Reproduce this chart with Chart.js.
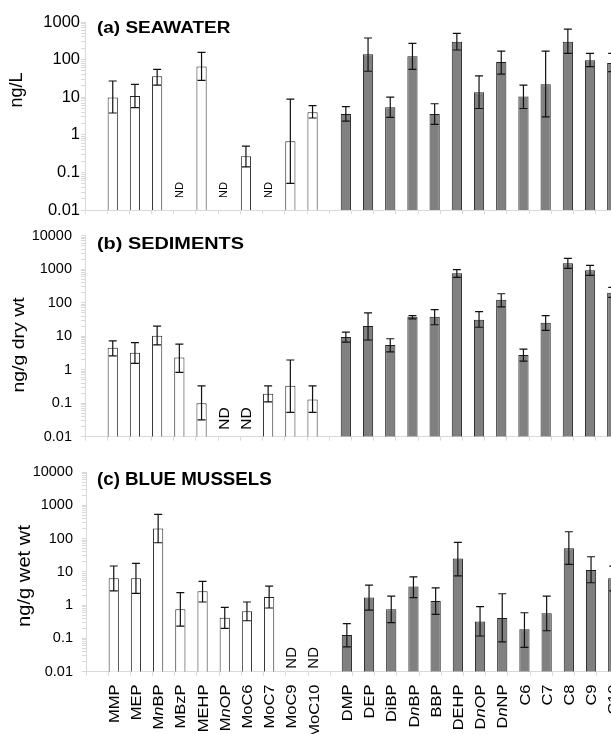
<!DOCTYPE html>
<html>
<head>
<meta charset="utf-8">
<script src="https://cdn.jsdelivr.net/npm/chart.js@4.4.1/dist/chart.umd.min.js"></script>
<style>
  body { margin: 0; width: 611px; height: 734px; overflow: hidden; background: #fff; position: relative; }
  canvas { position: absolute; left: 0; }
</style>
</head>
<body>
<canvas id="chartA" width="640" height="230"></canvas>
<canvas id="chartB" width="640" height="240"></canvas>
<canvas id="chartC" width="640" height="300"></canvas>
<script>
// compostos
const monoLabels = ['MMP', 'MEP', 'MnBP', 'MBzP', 'MEHP', 'MnOP', 'MoC6', 'MoC7', 'MoC9', 'MoC10'];
const diLabels = ['DMP', 'DEP', 'DiBP', 'DnBP', 'BBP', 'DEHP', 'DnOP', 'DnNP', 'C6', 'C7', 'C8', 'C9', 'C10'];
const yTickLabels = ['0.01', '0.1', '1', '10', '100', '1000', '10000'];

// (a) agua do mar, ng/L  (null = ND)
const seaMono   = [9.8, 10.7, 36, null, 66, null, 0.27, null, 0.67, 4.0];
const seaMonoLo = [3.8, 5.3, 21, null, 28, null, 0.14, null, 0.051, 2.8];
const seaMonoHi = [27, 22, 55, null, 156, null, 0.5, null, 8.9, 6.0];
const seaDi     = [3.6, 138, 5.4, 122, 3.6, 299, 13.5, 86, 10.5, 22, 300, 96, 81];
const seaDiLo   = [2.3, 49, 2.9, 55, 1.9, 180, 5.0, 41, 5.0, 3.0, 147, 65, 48];
const seaDiHi   = [5.6, 375, 10, 270, 6.7, 500, 37, 169, 21, 169, 650, 147, 147];

// (b) sedimentos, ng/g dry wt
const sedMono   = [4.5, 3.2, 10.4, 2.3, 0.10, null, null, 0.19, 0.33, 0.13];
const sedMonoLo = [2.6, 1.55, 5.5, 0.83, 0.032, null, null, 0.11, 0.053, 0.053];
const sedMonoHi = [7.3, 6.4, 20, 5.8, 0.33, null, null, 0.33, 1.95, 0.33];
const sedDi     = [9.5, 20, 5.5, 38, 38, 755, 31, 123, 2.75, 25, 1500, 927, 199];
const sedDiLo   = [6.7, 7.7, 3.4, 33, 22, 573, 18.5, 75, 1.8, 15, 1064, 658, 145];
const sedDiHi   = [13.3, 50, 8.4, 41, 62, 966, 54, 185, 4.1, 41, 2115, 1307, 288];

// (c) mexilhoes, ng/g wet wt
const musMono   = [6.4, 6.4, 202, 0.75, 2.6, 0.42, 0.65, 1.75, null, null];
const musMonoLo = [2.7, 2.26, 75, 0.235, 1.24, 0.2, 0.34, 0.82, null, null];
const musMonoHi = [15, 18, 533, 2.36, 5.2, 0.86, 1.24, 3.75, null, null];
const musDi     = [0.126, 1.71, 0.75, 3.6, 1.33, 25.4, 0.32, 0.41, 0.19, 0.57, 51, 11.3, 6.4];
const musDiLo   = [0.056, 0.71, 0.30, 1.67, 0.53, 7.6, 0.118, 0.079, 0.054, 0.17, 16.8, 4.7, 2.7];
const musDiHi   = [0.28, 4.0, 1.87, 7.1, 3.3, 77, 0.9, 2.2, 0.59, 1.87, 160, 28.4, 14.9];

const FONT = "'Liberation Sans', Arial, sans-serif";
const AXIS_GRAY = '#d9d9d9';

// uma categoria vazia no inicio, depois monoesteres e diesteres
const categories = [''].concat(monoLabels, diLabels);
const padMono = arr => [null].concat(arr, diLabels.map(() => null));
const padDi = arr => [null].concat(monoLabels.map(() => null), arr);

function makeSet(vals, lo, hi, pad, fill, border) {
    const data = pad(vals);
    const inGroup = pad(vals.map(() => true));
    return {
        data: data,
        errLo: pad(lo),
        errHi: pad(hi),
        nd: data.map((v, i) => inGroup[i] === true && v === null),
        backgroundColor: fill,
        borderColor: border,
        borderWidth: 1,
        categoryPercentage: 1.0,
        barPercentage: 0.92
    };
}

function drawText(ctx, text, x, y, font, o) {
    ctx.save();
    ctx.translate(x, y);
    if (o.rotate) ctx.rotate(-Math.PI / 2);
    ctx.scale(o.stretch || 1, 1);
    ctx.font = font;
    ctx.fillStyle = '#000';
    ctx.textAlign = o.align || 'left';
    ctx.textBaseline = o.baseline || 'alphabetic';
    ctx.fillText(text, 0, 0);
    ctx.restore();
}

// rotulo do eixo x com o "n" em italico (MnBP, DnOP...)
function drawCatLabel(ctx, label, x, y, size, stretch) {
    const parts = label.split(/(n)/).filter(s => s);
    const fontOf = p => (p === 'n' ? 'italic ' : '') + size + 'px ' + FONT;
    ctx.save();
    ctx.translate(x, y);
    ctx.rotate(-Math.PI / 2);
    ctx.scale(stretch, 1);
    ctx.fillStyle = '#000';
    ctx.textAlign = 'left';
    ctx.textBaseline = 'middle';
    let total = 0;
    parts.forEach(p => { ctx.font = fontOf(p); total += ctx.measureText(p).width; });
    let cx = -total;
    parts.forEach(p => {
        ctx.font = fontOf(p);
        ctx.fillText(p, cx, 0);
        cx += ctx.measureText(p).width;
    });
    ctx.restore();
}

const decorPlugin = {
    id: 'decor',
    afterDatasetsDraw(chart, args, o) {
        const ctx = chart.ctx;
        const yScale = chart.scales.y;
        const area = chart.chartArea;

        // barras de erro
        ctx.save();
        ctx.strokeStyle = '#111';
        ctx.lineWidth = 1.2;
        chart.data.datasets.forEach((ds, d) => {
            const meta = chart.getDatasetMeta(d);
            ds.data.forEach((v, j) => {
                if (v === null || ds.errLo[j] == null) return;
                const x = meta.data[j].x;
                const yTop = yScale.getPixelForValue(ds.errHi[j]);
                const yBot = yScale.getPixelForValue(ds.errLo[j]);
                ctx.beginPath();
                ctx.moveTo(x, yTop); ctx.lineTo(x, yBot);
                ctx.moveTo(x - 4, yTop); ctx.lineTo(x + 4, yTop);
                ctx.moveTo(x - 4, yBot); ctx.lineTo(x + 4, yBot);
                ctx.stroke();
            });
        });
        ctx.restore();

        // ND
        chart.data.datasets.forEach((ds, d) => {
            const meta = chart.getDatasetMeta(d);
            ds.nd.forEach((isNd, j) => {
                if (!isNd) return;
                drawText(ctx, 'ND', meta.data[j].x + 0.5, area.bottom - o.ndGap,
                    o.ndSize + 'px ' + FONT, { rotate: true, baseline: 'middle' });
            });
        });

        // titulo do painel e do eixo y
        drawText(ctx, o.title, 97, o.titleBase, 'bold ' + o.titleSize + 'px ' + FONT,
            { stretch: o.titleStretch });
        drawText(ctx, o.yTitle, o.yTitleX, o.yTitleY, o.yTitleSize + 'px ' + FONT,
            { rotate: true, align: 'center', baseline: 'middle', stretch: o.yTitleStretch });

        // rotulos das categorias (so no ultimo painel)
        if (o.labels) {
            categories.forEach((label, j) => {
                if (!label) return;
                const meta = chart.getDatasetMeta(j <= monoLabels.length ? 0 : 1);
                drawCatLabel(ctx, label, meta.data[j].x + 1, area.bottom + o.labelGap, o.labelSize, o.labelStretch);
            });
        }
    }
};

function makePanel(p) {
    const canvas = document.getElementById(p.id);
    canvas.style.top = p.top + 'px';
    const catW = 22.2;
    const rightPad = canvas.width - (p.axisLeft + categories.length * catW);
    return new Chart(canvas, {
        type: 'bar',
        data: {
            labels: categories,
            datasets: [
                makeSet(p.mono, p.monoLo, p.monoHi, padMono, '#ffffff', '#262626'),
                makeSet(p.di, p.diLo, p.diHi, padDi, '#808080', '#1f1f1f')
            ]
        },
        options: {
            responsive: false,
            animation: false,
            devicePixelRatio: 1,
            layout: { padding: { top: p.plotTop - p.top, right: rightPad, left: 0, bottom: 0 } },
            plugins: { legend: { display: false }, tooltip: { enabled: false }, decor: p.decor },
            scales: {
                x: {
                    grid: { drawOnChartArea: false, drawTicks: true, tickLength: 4, color: AXIS_GRAY },
                    border: { display: true, color: AXIS_GRAY },
                    ticks: { display: false },
                    afterFit(s) {
                        s.height = p.top + canvas.height - p.plotBottom;
                        s.paddingLeft = 0;
                        s.paddingRight = 0;
                    }
                },
                y: {
                    type: 'logarithmic',
                    min: 0.01,
                    max: p.yMax,
                    grid: { drawOnChartArea: false, drawTicks: true, tickLength: 4, color: AXIS_GRAY },
                    border: { display: true, color: AXIS_GRAY },
                    ticks: {
                        autoSkip: false,
                        color: '#000',
                        padding: p.tickPad,
                        font: { family: FONT, size: p.tickSize },
                        callback: v => {
                            const lg = Math.log10(v);
                            const r = Math.round(lg);
                            return Math.abs(lg - r) < 1e-6 ? yTickLabels[r + 2] : '';
                        }
                    },
                    afterBuildTicks(s) {
                        // tira os ticks 1.5, 15... que o chart.js gera
                        s.ticks = s.ticks.filter(t => {
                            const m = t.value / Math.pow(10, Math.floor(Math.log10(t.value) + 1e-9));
                            return Math.abs(m - 1.5) > 1e-6;
                        });
                    },
                    afterFit(s) {
                        s.width = p.axisLeft;
                        s.paddingTop = 0;
                        s.paddingBottom = 0;
                    }
                }
            }
        },
        plugins: [decorPlugin]
    });
}

makePanel({
    id: 'chartA', top: 0, plotTop: 22, plotBottom: 210, axisLeft: 85, yMax: 1000,
    tickSize: 16.5, tickPad: 1,
    mono: seaMono, monoLo: seaMonoLo, monoHi: seaMonoHi, di: seaDi, diLo: seaDiLo, diHi: seaDiHi,
    decor: {
        title: '(a) SEAWATER', titleSize: 15.8, titleStretch: 1.2, titleBase: 32.7,
        yTitle: 'ng/L', yTitleSize: 18, yTitleStretch: 1, yTitleX: 17.5, yTitleY: 90,
        ndSize: 11, ndGap: 12, labels: false
    }
});

makePanel({
    id: 'chartB', top: 215, plotTop: 235.7, plotBottom: 436.7, axisLeft: 85, yMax: 10000,
    tickSize: 14.5, tickPad: 9,
    mono: sedMono, monoLo: sedMonoLo, monoHi: sedMonoHi, di: sedDi, diLo: sedDiLo, diHi: sedDiHi,
    decor: {
        title: '(b) SEDIMENTS', titleSize: 17, titleStretch: 1.17, titleBase: 33.7,
        yTitle: 'ng/g dry wt', yTitleSize: 16.5, yTitleStretch: 1.18, yTitleX: 19, yTitleY: 130,
        ndSize: 15.5, ndGap: 7, labels: false
    }
});

makePanel({
    id: 'chartC', top: 450, plotTop: 472, plotBottom: 671.7, axisLeft: 86, yMax: 10000,
    tickSize: 14.5, tickPad: 9,
    mono: musMono, monoLo: musMonoLo, monoHi: musMonoHi, di: musDi, diLo: musDiLo, diHi: musDiHi,
    decor: {
        title: '(c) BLUE MUSSELS', titleSize: 17.5, titleStretch: 1.07, titleBase: 35,
        yTitle: 'ng/g wet wt', yTitleSize: 18, yTitleStretch: 1.12, yTitleX: 25, yTitleY: 126,
        ndSize: 15, ndGap: 3, labels: true, labelGap: 12.8, labelSize: 15, labelStretch: 1.1
    }
});
</script>
</body>
</html>
